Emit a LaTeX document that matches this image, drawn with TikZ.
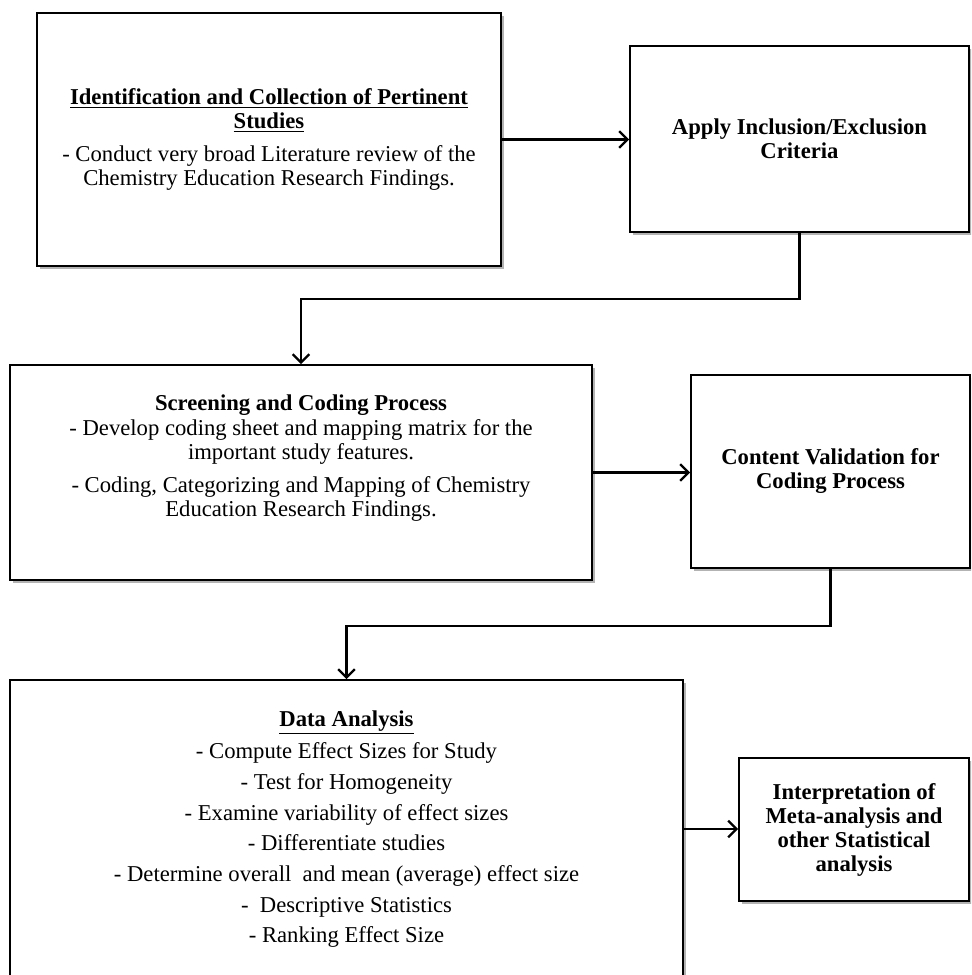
\documentclass[tikz,border=0pt]{standalone}
\usepackage{fontspec}
\setmainfont{Liberation Serif}
\usetikzlibrary{arrows.meta,shadows}

\begin{document}
\begin{tikzpicture}[x=0.6pt,y=-0.6pt,
    box/.style={draw, line width=1.1pt, fill=white, align=center, inner sep=0pt,
        drop shadow={shadow xshift=2pt, shadow yshift=-2pt, opacity=0.6},
        font=\fontsize{13.6}{14.4}\selectfont},
    headbox/.style={box, font=\fontsize{13.6}{14.4}\selectfont\bfseries},
    link/.style={line width=1.4pt, -{Straight Barb[length=5pt,width=10pt,line width=1.4pt]}}]
    \useasboundingbox (0,0) rectangle (971,975);
    \clip (0,0) rectangle (971,975);

    \node[box, minimum width=278.4pt, minimum height=151.8pt] (ident) at (269,139.5)
        {\textbf{\underline{Identification and Collection of Pertinent}}\\
         \textbf{\underline{Studies}}\\[5pt]
         - Conduct very broad Literature review of the\\
         Chemistry Education Research Findings.};
    \node[headbox, minimum width=203.4pt, minimum height=111.6pt] (apply) at (799.5,139)
        {Apply Inclusion/Exclusion\\ Criteria};
    \node[box, minimum width=349.2pt, minimum height=129pt] (screen) at (301,472.5)
        {\textbf{Screening and Coding Process}\\[1pt]
         - Develop coding sheet and mapping matrix for the\\
         important study features.\\[5pt]
         - Coding, Categorizing and Mapping of Chemistry\\
         Education Research Findings.\\[2pt]\strut};
    \node[headbox, minimum width=167.4pt, minimum height=115.8pt] (valid) at (830.5,471.5)
        {Content Validation for\\ Coding Process};
    \node[box, minimum width=403.8pt, minimum height=178.8pt] (analysis) at (346.5,829)
        {\textbf{\underline{Data Analysis}}\\[4pt]
         - Compute Effect Sizes for Study\\[4pt]
         - Test for Homogeneity\\[4pt]
         - Examine variability of effect sizes\\[4pt]
         - Differentiate studies\\[4pt]
         - Determine overall\ \ and mean (average) effect size\\[4pt]
         -\ \ Descriptive Statistics\\[4pt]
         - Ranking Effect Size};
    \node[headbox, minimum width=138pt, minimum height=85.8pt] (interp) at (854,829.5)
        {Interpretation of\\ Meta-analysis and\\ other Statistical\\ analysis};

    \draw[link] (ident.east) -- (ident.east -| apply.west);
    \draw[link] (apply.south) -- ++(0,66) -| (screen.north);
    \draw[link] (screen.east) -- (screen.east -| valid.west);
    \draw[link] (valid.south) -- ++(0,57) -| (analysis.north);
    \draw[link] (analysis.east) -- (analysis.east -| interp.west);
\end{tikzpicture}
\end{document}
